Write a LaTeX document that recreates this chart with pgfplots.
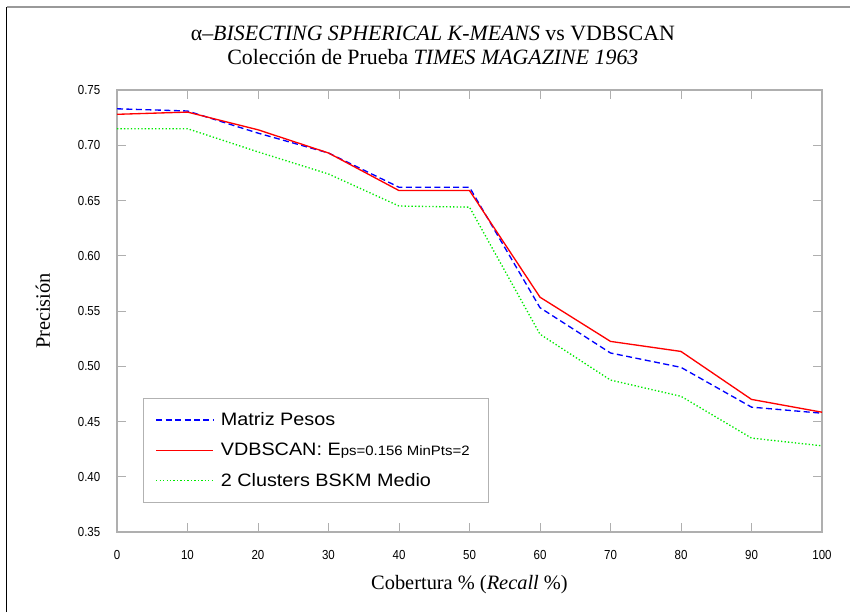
\documentclass[border=0pt]{standalone}
\usepackage{pgfplots}
\pgfplotsset{compat=1.18}
\usepackage{fontspec}
\setmainfont{Liberation Serif}
\newfontfamily\arialfont{Liberation Sans}
\newfontfamily\legfont[FakeStretch=1.1]{Liberation Sans}
\newfontfamily\tickfont[FakeStretch=0.88]{Liberation Sans}
\definecolor{axgray}{RGB}{175,175,175}
\definecolor{lgreen}{RGB}{0,235,0}
\definecolor{cblue}{RGB}{0,0,255}
\definecolor{cred}{RGB}{255,0,0}
\begin{document}
\begin{tikzpicture}
\useasboundingbox (0,0) rectangle (637.5pt,459pt);
\draw[gray!80,line width=1.5pt] (4.9pt,454.1pt) -- (637.5pt,454.1pt);
\draw[black,line width=1.2pt] (4.9pt,0pt) -- (4.9pt,454.1pt);
\begin{axis}[
  at={(87.75pt,60pt)}, anchor=south west,
  scale only axis, width=528.75pt, height=331.5pt,
  xmin=0, xmax=100, ymin=0.35, ymax=0.75,
  xtick={0,10,...,100},
  ytick={0.35,0.40,...,0.75},
  axis line style={axgray, line width=0.8pt},
  tick style={axgray, line width=0.6pt},
  major tick length=7pt,
  tick align=inside,
  /pgf/number format/assume math mode=true,
  yticklabel style={/pgf/number format/fixed,/pgf/number format/fixed zerofill,/pgf/number format/precision=2},
  tick label style={font=\tickfont\fontsize{9.8}{11}\selectfont},
  xticklabel shift=10pt,
  yticklabel shift=9pt,
  xlabel={Cobertura \% (\textit{Recall} \%)},
  ylabel={Precisión},
  label style={font=\fontsize{15.3}{18}\selectfont},
  xlabel style={at={(0.5,-0.12)}, anchor=center},
  ylabel style={at={(-0.105,0.5)}, anchor=center},
  legend style={at={(0.037,0.303)}, anchor=north west, draw=gray!60, line width=0.6pt,
    font=\legfont\fontsize{13.5}{16}\selectfont, inner xsep=9pt, inner ysep=8.5pt,
    row sep=7.6pt, nodes={inner xsep=5pt}},
  legend cell align=left,
  legend image code/.code={\draw[#1] (0pt,0pt) -- (43pt,0pt);},
  clip=false,
]
\addplot[draw=cblue, color=cblue, line width=1pt, dash pattern=on 4.5pt off 2.6pt] coordinates {
(0,0.733) (10,0.731) (20,0.711) (30,0.693) (40,0.662) (50,0.662)
(60,0.553) (70,0.512) (80,0.499) (90,0.463) (100,0.4575)};
\addlegendentry{Matriz Pesos}
\addplot[draw=cred, color=cred, line width=1pt, solid] coordinates {
(0,0.728) (10,0.730) (20,0.714) (30,0.693) (40,0.659) (50,0.659)
(60,0.5625) (70,0.5225) (80,0.5134) (90,0.470) (100,0.4584)};
\addlegendentry{VDBSCAN: E{\fontsize{10.2}{12}\selectfont ps=0.156 MinPts=2}}
\addplot[draw=lgreen, color=lgreen, line width=1pt, dash pattern=on 1pt off 1.6pt] coordinates {
(0,0.715) (10,0.715) (20,0.694) (30,0.674) (40,0.645) (50,0.644)
(60,0.529) (70,0.4875) (80,0.4728) (90,0.435) (100,0.428)};
\addlegendentry{2 Clusters BSKM Medio}
\node[font=\fontsize{16.4}{19.5}\selectfont, align=center, anchor=center]
  at (axis description cs:0.448,1.102)
  {α–\textit{BISECTING SPHERICAL K-MEANS} vs VDBSCAN\\[-1.5pt]
   Colección de Prueba \textit{TIMES MAGAZINE 1963}};
\end{axis}
\end{tikzpicture}
\end{document}
